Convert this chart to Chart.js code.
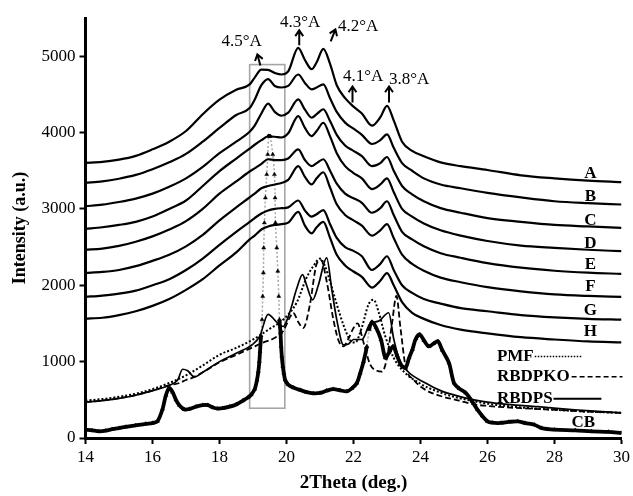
<!DOCTYPE html>
<html><head><meta charset="utf-8">
<script src="https://cdn.jsdelivr.net/npm/chart.js@4/dist/chart.umd.min.js"></script>
<style>html,body{margin:0;padding:0;background:#fff}#wrap{width:633px;height:496px;position:relative}</style>
</head><body><div id="wrap"><canvas id="c"></canvas></div>
<script>
// ---- data ----
const stackX = [14,14.5,15,15.5,16,16.5,17,17.5,18,18.5,18.9,19.05,19.25,19.45,19.65,19.85,20.05,20.35,20.55,20.75,20.9,21.1,21.3,21.5,21.75,22.0,22.25,22.55,22.8,23.0,23.2,23.45,23.75,24.1,24.6,25.2,26,27,28,29,30];
const curveA = [3604,3615,3645,3695,3780,3880,4020,4240,4430,4560,4630,4720,4825,4820,4780,4760,4800,5110,4950,4830,4920,5095,4900,4620,4450,4340,4250,4090,4200,4350,4160,3880,3760,3690,3610,3560,3510,3440,3400,3370,3350];
const curveB = [3342,3360,3395,3445,3520,3610,3720,3880,4060,4230,4320,4430,4620,4700,4610,4590,4610,4760,4650,4565,4590,4630,4450,4270,4130,4050,3970,3850,3900,3975,3800,3600,3500,3400,3320,3270,3210,3150,3100,3075,3058];
const curveC = [3035,3055,3090,3135,3200,3290,3400,3550,3730,3880,4010,4090,4250,4380,4270,4220,4260,4434,4300,4194,4240,4305,4150,3970,3830,3760,3690,3560,3600,3680,3500,3300,3190,3100,3010,2950,2880,2830,2790,2770,2752];
const curveD = [2739,2760,2790,2830,2900,3000,3110,3300,3495,3660,3790,3840,3900,3950,3945,3935,3990,4216,4060,3953,4020,4128,3950,3730,3560,3470,3400,3260,3320,3400,3220,3000,2900,2810,2720,2650,2580,2520,2490,2465,2446];
const curveE = [2467,2480,2515,2570,2640,2730,2840,3000,3200,3360,3490,3530,3590,3650,3640,3640,3660,3780,3640,3560,3600,3650,3500,3330,3200,3140,3080,2950,3010,3100,2920,2700,2600,2510,2420,2360,2290,2230,2190,2165,2149];
const curveF = [2162,2175,2200,2250,2320,2400,2510,2660,2850,3020,3150,3200,3270,3300,3320,3340,3380,3560,3420,3320,3400,3480,3280,3060,2920,2850,2780,2650,2720,2800,2620,2400,2280,2190,2100,2040,1975,1920,1880,1860,1848];
const curveG = [1848,1865,1890,1930,2000,2080,2200,2350,2530,2700,2830,2880,2940,2980,3000,3010,3020,3110,2980,2900,2930,2985,2800,2620,2500,2450,2380,2200,2280,2380,2200,2000,1900,1820,1760,1700,1660,1610,1580,1560,1550];
const curveH = [1563,1575,1610,1660,1730,1820,1940,2080,2260,2430,2600,2650,2730,2770,2790,2800,2820,2960,2780,2680,2760,2830,2620,2400,2260,2180,2110,1970,2060,2160,2000,1780,1640,1560,1480,1420,1370,1320,1290,1265,1253];
const stackNames = ['A','B','C','D','E','F','G','H'];
const stackCurves = [curveA,curveB,curveC,curveD,curveE,curveF,curveG,curveH];

const pmfX = [14,14.5,15,15.5,16,16.5,17,17.5,18,18.5,19,19.5,19.9,20.3,20.6,20.8,21.0,21.15,21.3,21.5,21.7,21.9,22.05,22.25,22.45,22.6,22.75,22.95,23.2,23.5,24.0,24.5,25,25.5,26,27,28,29,30];
const pmfY = [490,510,540,580,640,720,820,950,1090,1180,1290,1430,1550,1770,2100,2250,2350,2250,2050,1750,1480,1280,1250,1450,1750,1810,1650,1330,1050,870,710,610,540,490,450,400,370,345,330];

const pkoX = [14,14.5,15,15.5,16,16.5,16.8,17.0,17.2,17.5,18,18.5,19,19.3,19.6,19.9,20.1,20.2,20.35,20.5,20.7,20.9,21.03,21.2,21.4,21.55,21.7,21.85,22.0,22.12,22.3,22.5,22.7,22.85,23.0,23.15,23.28,23.4,23.55,23.8,24.15,24.6,25.15,25.6,26,27,28,29,30];
const pkoY = [470,490,520,560,620,690,720,760,790,860,990,1090,1190,1250,1300,1400,1580,1640,1520,1440,1750,2280,2330,2050,1550,1280,1200,1300,1440,1500,1250,960,880,870,1050,1500,1860,1450,950,760,630,550,490,440,420,390,370,345,330];

const psX = [14,14.5,15,15.5,16,16.5,16.75,16.9,17.05,17.25,17.5,18,18.5,19,19.2,19.45,19.7,19.9,20.1,20.3,20.48,20.6,20.78,20.95,21.2,21.35,21.5,21.7,21.85,22.0,22.25,22.5,22.75,23.05,23.2,23.35,23.6,24.15,24.6,25.15,25.6,26,26.6,27.5,28.6,30];
const psY = [470,490,520,560,620,690,760,900,880,800,860,1000,1110,1230,1330,1620,1520,1460,1650,1950,2140,2000,1810,2000,2360,1950,1550,1220,1230,1290,1290,1500,1530,1640,1300,1050,880,720,620,545,500,470,440,410,370,328];

const cbX = [14,14.2,14.4,14.6,14.8,15.0,15.2,15.5,15.8,16.0,16.15,16.3,16.4,16.5,16.6,16.7,16.8,16.95,17.1,17.3,17.5,17.65,17.8,17.95,18.1,18.3,18.5,18.7,18.85,18.95,19.05,19.12,19.16,19.19,19.21,19.24,19.27,19.29,19.31,19.32,19.34,19.37,19.41,19.44,19.47,19.51,19.59,19.64,19.66,19.67,19.71,19.74,19.77,19.79,19.82,19.84,19.86,19.89,19.92,19.96,20.05,20.2,20.4,20.6,20.8,21.0,21.2,21.4,21.6,21.8,21.95,22.1,22.2,22.3,22.4,22.47,22.55,22.67,22.82,22.95,23.06,23.18,23.3,23.41,23.55,23.66,23.76,23.86,23.98,24.1,24.25,24.4,24.52,24.65,24.85,25.0,25.15,25.35,25.54,25.7,25.84,26.0,26.14,26.4,26.63,26.9,27.13,27.4,27.62,28.0,28.62,29.1,29.61,30];
const cbY = [110,100,88,95,115,130,145,165,185,195,220,380,560,655,600,500,430,375,380,410,430,430,400,385,390,410,440,490,530,570,640,760,873,1004,1135,1340,1550,1856,2163,2490,2818,3146,3451,3713,3953,3950,3713,3451,3146,2818,2490,2184,1856,1550,1380,1200,1069,938,850,760,700,660,630,600,585,590,620,640,625,610,650,720,850,1000,1200,1420,1520,1450,1290,1050,1120,1200,1080,960,917,1050,1160,1300,1355,1280,1200,1240,1266,1150,983,721,650,590,480,371,290,218,200,197,210,218,195,174,130,109,100,87,80,66,52];

const xTicks = [14,16,18,20,22,24,26,28,30];
const yTicks = [0,1000,2000,3000,4000,5000];

// annotation content (data coordinates)
const peakText = ['4.5°A','4.3°A','4.2°A','4.1°A','3.8°A'];
const peakTextPos = [[18.66,5194],[20.41,5443],[22.14,5390],[22.29,4735],[23.66,4696]];
const arrowTail = [[19.22,4879],[20.38,5142],[21.32,5194],[21.97,4395],[23.06,4395]];
const arrowHead = [[19.13,5024],[20.38,5338],[21.46,5351],[21.97,4604],[23.06,4604]];
const boxRange = [[18.9,390],[19.95,4890]];
const curveLabelX = 29.07;
const curveLabelY = [3464,3156,2848,2547,2267,1976,1668,1387];
const legendNames = ['PMF','RBDPKO','RBDPS','CB'];
const legendTextPos = [[26.28,1072],[26.28,810],[26.28,515],[28.51,207]];
const legendLines = [[27.41,28.81,1066,'dot'],[28.51,30.03,803,'dash'],[27.97,29.40,515,'solid']];

// ---- build ----
const pts = (xs, ys) => xs.map((x,i)=>({x, y: ys[i]}));
const datasets = [];
stackCurves.forEach((c,i)=>datasets.push({label: stackNames[i], data: pts(stackX,c), borderColor:'#000', borderWidth:2.2, pointRadius:0, cubicInterpolationMode:'monotone', fill:false}));
datasets.push({label:'PMF', data: pts(pmfX,pmfY), borderColor:'#000', borderWidth:2, borderDash:[2,2], pointRadius:0, cubicInterpolationMode:'monotone'});
datasets.push({label:'RBDPKO', data: pts(pkoX,pkoY), borderColor:'#000', borderWidth:1.8, borderDash:[6,3], pointRadius:0, cubicInterpolationMode:'monotone'});
datasets.push({label:'RBDPS', data: pts(psX,psY), borderColor:'#000', borderWidth:1.7, pointRadius:0, cubicInterpolationMode:'monotone'});
// sparse steep segments (the tall spike) are drawn as a thin grey dotted link between markers
const isSparse = c => { const dx = Math.abs(c.p1.x-c.p0.x), dy = Math.abs(c.p1.y-c.p0.y); return dy > 16 && dy > 6*dx; };
datasets.push({label:'CB', data: pts(cbX,cbY), borderColor:'#000', borderWidth:3.8, tension:0.3,
  pointStyle:'triangle', pointRadius:2.3, pointBackgroundColor:'#000', pointBorderColor:'#000', pointBorderWidth:0.5,
  segment:{ borderColor: c => isSparse(c) ? '#aaa' : '#000', borderWidth: c => isSparse(c) ? 1.5 : 3.8, borderDash: c => isSparse(c) ? [2,2] : undefined }});

const SERIF = '"Liberation Serif","Times New Roman",serif';
Chart.defaults.font.family = SERIF;
Chart.defaults.color = '#000';

const annot = {
  id:'annot',
  beforeDatasetsDraw(chart){
    const {ctx, scales:{x,y}} = chart;
    ctx.save();
    ctx.strokeStyle = '#a6a6a6'; ctx.lineWidth = 1.6;
    const x0 = x.getPixelForValue(boxRange[0][0]), x1 = x.getPixelForValue(boxRange[1][0]);
    const y0 = y.getPixelForValue(boxRange[1][1]), y1 = y.getPixelForValue(boxRange[0][1]);
    ctx.strokeRect(x0, y0, x1-x0, y1-y0);
    ctx.restore();
  },
  afterDatasetsDraw(chart){
    const {ctx, scales:{x,y}} = chart;
    ctx.save();
    ctx.fillStyle = '#000'; ctx.strokeStyle = '#000';
    ctx.textAlign = 'center'; ctx.textBaseline = 'middle';
    ctx.font = '17px ' + SERIF;
    peakText.forEach((t,i)=>ctx.fillText(t, x.getPixelForValue(peakTextPos[i][0]), y.getPixelForValue(peakTextPos[i][1])));
    ctx.lineWidth = 2;
    arrowTail.forEach((tl,i)=>{
      const ax = x.getPixelForValue(tl[0]), ay = y.getPixelForValue(tl[1]);
      const bx = x.getPixelForValue(arrowHead[i][0]), by = y.getPixelForValue(arrowHead[i][1]);
      const ang = Math.atan2(by-ay, bx-ax), h = 7;
      ctx.beginPath(); ctx.moveTo(ax,ay); ctx.lineTo(bx,by);
      ctx.moveTo(bx - h*Math.cos(ang-0.6), by - h*Math.sin(ang-0.6)); ctx.lineTo(bx,by);
      ctx.lineTo(bx - h*Math.cos(ang+0.6), by - h*Math.sin(ang+0.6));
      ctx.stroke();
    });
    ctx.font = 'bold 17px ' + SERIF;
    stackNames.forEach((n,i)=>ctx.fillText(n, x.getPixelForValue(curveLabelX), y.getPixelForValue(curveLabelY[i])));
    ctx.textAlign = 'left';
    legendNames.forEach((n,i)=>ctx.fillText(n, x.getPixelForValue(legendTextPos[i][0]), y.getPixelForValue(legendTextPos[i][1])));
    legendLines.forEach(l=>{
      ctx.beginPath();
      if(l[3]==='dot'){ctx.setLineDash([1.5,1.5]); ctx.lineWidth=1.5;}
      else if(l[3]==='dash'){ctx.setLineDash([5,3]); ctx.lineWidth=1.5;}
      else {ctx.setLineDash([]); ctx.lineWidth=2;}
      const py = y.getPixelForValue(l[2]);
      ctx.moveTo(x.getPixelForValue(l[0]), py); ctx.lineTo(x.getPixelForValue(l[1]), py); ctx.stroke();
    });
    ctx.restore();
  }
};

new Chart(document.getElementById('c'), {
  type:'line',
  data:{datasets},
  options:{
    responsive:true, maintainAspectRatio:false, animation:false,
    layout:{padding:{left:0,right:10,top:18,bottom:0}},
    plugins:{legend:{display:false}, tooltip:{enabled:false}},
    scales:{
      x:{type:'linear', min:14, max:30,
        afterBuildTicks: s => { s.ticks = xTicks.map(v=>({value:v})); },
        afterFit: s => { s.height = 58; },
        ticks:{font:{size:17}, padding:3, maxRotation:0, color:'#000', callback: v => String(v)},
        grid:{display:true, drawOnChartArea:false, drawTicks:true, tickLength:6, tickWidth:2, tickColor:'#000'},
        border:{display:true, color:'#000', width:3},
        title:{display:true, text:'2Theta (deg.)', font:{size:19, weight:'bold'}, padding:{top:0,bottom:2}, color:'#000'}},
      y:{type:'linear', min:0, max:5500,
        afterBuildTicks: s => { s.ticks = yTicks.map(v=>({value:v})); },
        afterFit: s => { s.width = 85.5; },
        ticks:{font:{size:17}, padding:4, color:'#000', callback: v => String(v)},
        grid:{display:true, drawOnChartArea:false, drawTicks:true, tickLength:6, tickWidth:2, tickColor:'#000'},
        border:{display:true, color:'#000', width:3},
        title:{display:true, text:'Intensity (a.u.)', font:{size:18, weight:'bold'}, padding:{top:10,bottom:0}, color:'#000'}}
    }
  },
  plugins:[annot]
});
</script></body></html>
